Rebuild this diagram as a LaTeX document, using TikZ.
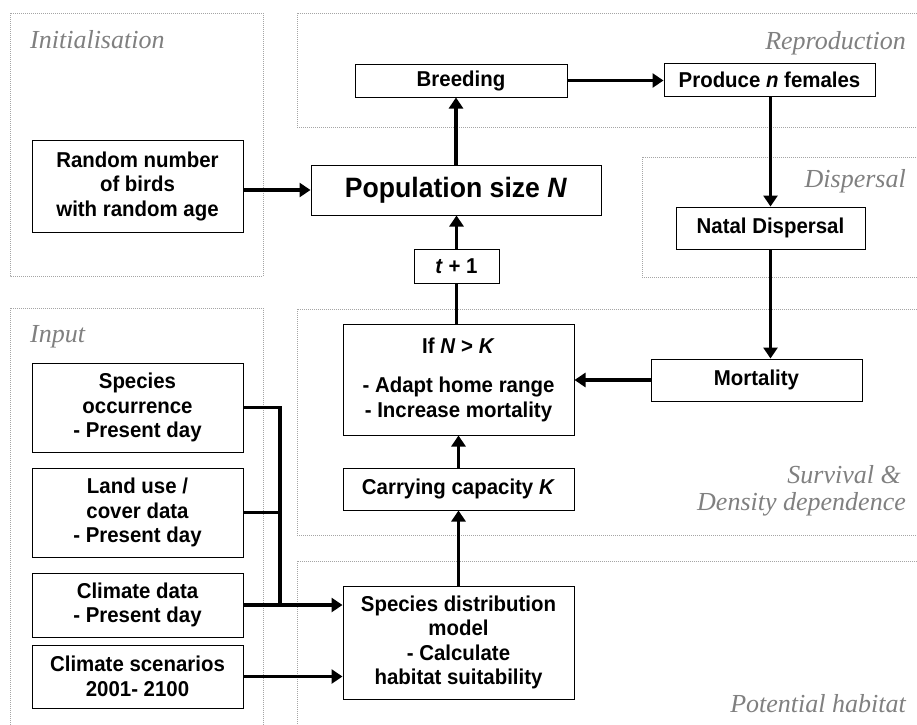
\documentclass[tikz,border=0pt]{standalone}
\usepackage{fontspec}
\setmainfont{Liberation Sans}[FakeStretch=0.95]
\newfontfamily\labelfont{Liberation Serif}
\usetikzlibrary{arrows.meta}
\definecolor{regionline}{RGB}{165,165,165}
\definecolor{labelgray}{RGB}{128,128,128}

\begin{document}
\begin{tikzpicture}[x=1pt,y=-1pt,
  region/.style={draw=regionline, line width=0.8pt, dash pattern=on 1pt off 1pt},
  regionlabel/.style={font=\labelfont\itshape\fontsize{26}{29}\selectfont, text=labelgray, inner sep=0pt},
  box/.style={draw=black, line width=1pt, fill=white, inner sep=0pt, align=center,
    font=\bfseries\fontsize{21.5}{24.5}\selectfont},
  link/.style={line width=3.4pt},
  arr/.style={link, -{Triangle[width=14pt,length=11pt]}}
]
\useasboundingbox (0,0) rectangle (917,724);
\clip (0,0) rectangle (917,724);
\fill[white] (0,0) rectangle (917,724);

% grouping regions
\draw[region] (10,13) rectangle (263,276);
\draw[region] (297,13) rectangle (940,127);
\draw[region] (642,157) rectangle (940,277);
\draw[region] (10,308) rectangle (263,750);
\draw[region] (297,309) rectangle (940,535);
\draw[region] (297,561) rectangle (940,750);

\node[regionlabel, anchor=base west] at (30,48) {Initialisation};
\node[regionlabel, anchor=base east] at (906,49) {Reproduction};
\node[regionlabel, anchor=base east] at (906,187) {Dispersal};
\node[regionlabel, anchor=base west] at (30,342) {Input};
\node[regionlabel, anchor=base east] at (901,483) {Survival \&};
\node[regionlabel, anchor=base east] at (906,510) {Density dependence};
\node[regionlabel, anchor=base east] at (906,712) {Potential habitat};

% process boxes
\node[box, minimum width=211pt, minimum height=92pt] (rand) at (137.5,186) {Random number\\of birds\\with random age};
\node[box, minimum width=290pt, minimum height=50pt, font=\bfseries\fontsize{28}{32}\selectfont] (pop) at (456,190) {Population size \textit{N}};
\node[box, minimum width=212pt, minimum height=33pt] (breed) at (461,80.5) {Breeding};
\node[box, minimum width=211pt, minimum height=33pt] (prod) at (769.5,79.5) {Produce \textit{n} females};
\node[box, minimum width=189pt, minimum height=42pt] (natal) at (770.5,228) {Natal Dispersal};
\node[box, minimum width=211pt, minimum height=42pt] (mort) at (756.5,380) {Mortality};
\node[box, minimum width=85pt, minimum height=34pt] (tplus) at (456.5,266) {\textit{t} + 1};
\node[box, minimum width=231pt, minimum height=111pt] (dens) at (458.5,379.5) {If \textit{N} > \textit{K}\\[15pt]- Adapt home range\\- Increase mortality};
\node[box, minimum width=231pt, minimum height=42pt] (cap) at (458.5,489) {Carrying capacity \textit{K}};
\node[box, minimum width=231pt, minimum height=113pt] (sdm) at (458.5,642.5) {Species distribution\\model\\- Calculate\\habitat suitability};

% input data
\node[box, minimum width=211pt, minimum height=89pt] (occ) at (137.5,407.5) {Species\\occurrence\\- Present day};
\node[box, minimum width=211pt, minimum height=89pt] (land) at (137.5,512.5) {Land use /\\cover data\\- Present day};
\node[box, minimum width=211pt, minimum height=64pt] (clim) at (137.5,605) {Climate data\\- Present day};
\node[box, minimum width=211pt, minimum height=63pt] (scen) at (137.5,676.5) {Climate scenarios\\2001- 2100};
\coordinate (bus) at (280,0);

% connectors
\draw[arr] (rand.east |- pop.west) -- (pop.west);
\draw[arr] (pop.north) -- (pop.north |- breed.south);
\draw[arr] (breed.east) -- (prod.west |- breed.east);
\draw[arr] (prod.south -| natal.north) -- (natal.north);
\draw[arr] (natal.south) -- (natal.south |- mort.north);
\draw[arr] (mort.west) -- (mort.west -| dens.east);
\draw[arr] (cap.north) -- (dens.south);
\draw[link] (dens.north -| tplus.south) -- (tplus.south);
\draw[arr] (tplus.north) -- (tplus.north |- pop.south);
\draw[arr] (sdm.north) -- (cap.south);
\draw[link] (occ.east) -- (occ.east -| bus) -- (bus |- clim.east);
\draw[link] (land.east) -- (land.east -| bus);
\draw[arr] (clim.east) -- (clim.east -| sdm.west);
\draw[arr] (scen.east) -- (scen.east -| sdm.west);
\end{tikzpicture}
\end{document}
